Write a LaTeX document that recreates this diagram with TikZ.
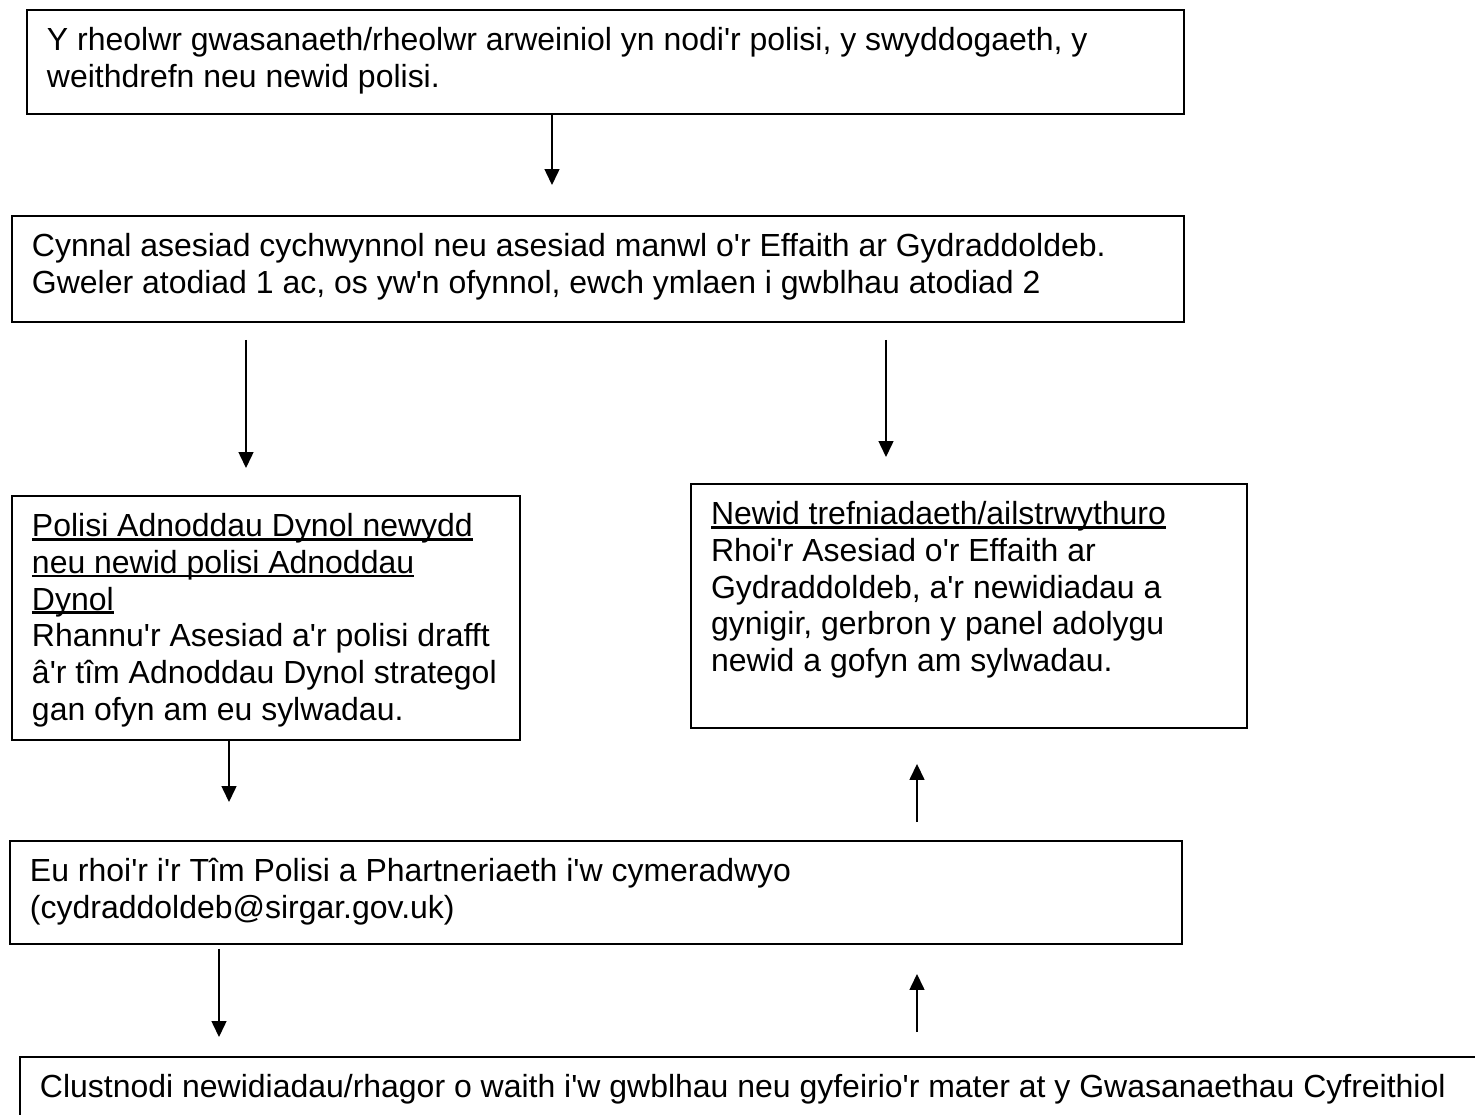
\documentclass[tikz,border=0pt]{standalone}
\usepackage{fontspec}
\setmainfont{Liberation Sans}[Ligatures=TeXOff]
\usetikzlibrary{arrows.meta}

% underline sitting just under the baseline
\newsavebox{\ulbox}
\newcommand{\ulin}[1]{\leavevmode\sbox{\ulbox}{#1}\rlap{\rule[-0.08cm]{\wd\ulbox}{0.055cm}}\usebox{\ulbox}}

\begin{document}
\begin{tikzpicture}[x=0.02cm, y=-0.02cm,
    stage/.style={draw, line width=0.04cm, anchor=north west, inner xsep=0.4cm, inner ysep=0.3cm},
    flow/.style={-{Triangle[length=0.32cm, width=0.3cm]}, line width=0.03cm},
    font=\fontsize{18.2}{20.9}\selectfont]
    \useasboundingbox (0,0) rectangle (1475,1115);
    \clip (0,0) rectangle (1475,1115);

    % Start
    \node[stage] (start) at (26,9) {\parbox[c][1.48cm][t]{22.34cm}{\raggedright\strut
        Y rheolwr gwasanaeth/rheolwr arweiniol yn nodi'r polisi, y swyddogaeth, y\\
        weithdrefn neu newid polisi.}};

    % Assessment
    \node[stage] (assess) at (11,215) {\parbox[c][1.52cm][t]{22.64cm}{\raggedright\strut
        Cynnal asesiad cychwynnol neu asesiad manwl o'r Effaith ar Gydraddoldeb.\\
        Gweler atodiad 1 ac, os yw'n ofynnol, ewch ymlaen i gwblhau atodiad 2}};

    % HR policy (left)
    \node[stage] (hrpol) at (11,495) {\parbox[c][4.28cm][t]{9.36cm}{\raggedright\strut
        \ulin{Polisi Adnoddau Dynol newydd}\\
        \ulin{neu newid polisi Adnoddau}\\
        \ulin{Dynol}\\
        Rhannu'r Asesiad a'r polisi drafft\\
        â'r tîm Adnoddau Dynol strategol\\
        gan ofyn am eu sylwadau.}};

    % Restructure (right)
    \node[stage] (restruct) at (690,483) {\parbox[c][4.28cm][t]{10.32cm}{\raggedright\strut
        \ulin{Newid trefniadaeth/ailstrwythuro}\\
        Rhoi'r Asesiad o'r Effaith ar\\
        Gydraddoldeb, a'r newidiadau a\\
        gynigir, gerbron y panel adolygu\\
        newid a gofyn am sylwadau.}};

    % Approval
    \node[stage] (approve) at (9,840) {\parbox[c][1.46cm][t]{22.64cm}{\raggedright\strut
        Eu rhoi'r i'r Tîm Polisi a Phartneriaeth i'w cymeradwyo\\
        (cydraddoldeb@sirgar.gov.uk)}};

    % Legal (runs off the page)
    \node[stage] (legal) at (19,1056) {\parbox[c][2.4cm][t]{29cm}{\raggedright\strut
        Clustnodi newidiadau/rhagor o waith i'w gwblhau neu gyfeirio'r mater at y Gwasanaethau Cyfreithiol}};

    % Arrows down
    \draw[flow, shorten >=0.6cm] (start.south -| 552,0) -- (assess.north -| 552,0);
    \draw[flow, shorten <=0.34cm, shorten >=0.54cm] (assess.south -| 246,0) -- (hrpol.north -| 246,0);
    \draw[flow, shorten <=0.34cm, shorten >=0.52cm] (assess.south -| 886,0) -- (restruct.north -| 886,0);
    \draw[flow, shorten >=0.76cm] (hrpol.south -| 229,0) -- (approve.north -| 229,0);
    \draw[flow, shorten <=0.08cm, shorten >=0.38cm] (approve.south -| 219,0) -- (legal.north -| 219,0);

    % Arrows up
    \draw[flow, shorten <=0.36cm, shorten >=0.7cm] (approve.north -| 917,0) -- (restruct.south -| 917,0);
    \draw[flow, shorten <=0.48cm, shorten >=0.58cm] (legal.north -| 917,0) -- (approve.south -| 917,0);
\end{tikzpicture}
\end{document}
